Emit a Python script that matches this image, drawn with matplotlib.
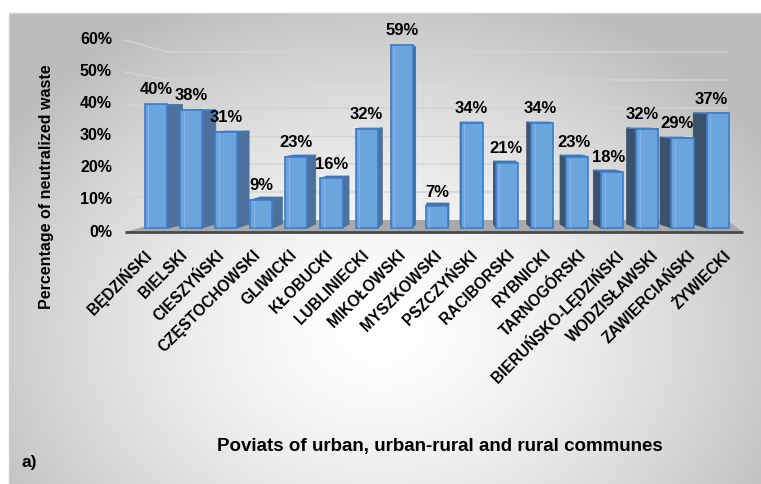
import numpy as np
import matplotlib
matplotlib.use("Agg")
import matplotlib.pyplot as plt
from matplotlib.patches import Polygon

plt.rcParams['font.family'] = ['Liberation Sans', 'DejaVu Sans']
plt.rcParams['font.weight'] = 'bold'

# --- data ---
poviats = ['BĘDZIŃSKI', 'BIELSKI', 'CIESZYŃSKI', 'CZĘSTOCHOWSKI', 'GLIWICKI',
           'KŁOBUCKI', 'LUBLINIECKI', 'MIKOŁOWSKI', 'MYSZKOWSKI', 'PSZCZYŃSKI',
           'RACIBORSKI', 'RYBNICKI', 'TARNOGÓRSKI', 'BIERUŃSKO-LĘDZIŃSKI',
           'WODZISŁAWSKI', 'ZAWIERCIAŃSKI', 'ŻYWIECKI']
share = [40, 38, 31, 9, 23, 16, 32, 59, 7, 34, 21, 34, 23, 18, 32, 29, 37]
yticks = [0, 10, 20, 30, 40, 50, 60]

W, H = 761, 484
fig = plt.figure(figsize=(W / 100, H / 100), dpi=100)

# --- background: radial grey gradient panel ---
bg = fig.add_axes([0, 0, 1, 1], zorder=-5)
yy, xx = np.mgrid[0:H, 0:W]
r = np.sqrt(((xx - 380) / 390.0) ** 2 + ((yy - 330) / 310.0) ** 2)
val = 1 - 0.21 * np.clip(r, 0, 1.15) ** 1.5
img = np.dstack([val, val, val])
img[:13, :, :] = 1.0
img[:, :9, :] = 1.0
bg.imshow(img, extent=(0, W, H, 0), aspect='auto', interpolation='bilinear')
bg.plot([9, 9, W], [H, 13, 13], color='#cfcfcf', lw=1)
bg.set_xlim(0, W)
bg.set_ylim(H, 0)
bg.axis('off')

# --- main axes, pixel mapping: x = 156 + 35.1*i, y = 228 - 3.1*v ---
px, py = 35.1, 3.1
ax = fig.add_axes([125 / W, (H - 236) / H, 620 / W, 206 / H])
ax.set_xlim((125 - 156) / px, (745 - 156) / px)
ax.set_ylim(-8 / py, 198 / py)
ax.axis('off')

def front(g):   # front edge of side wall
    return (-4 + 3.2 * g) / py

def back_wall(g):
    return (8 + 2.8 * g) / py

xf0, xf1 = (125 - 156) / px, (743 - 156) / px
xb0, xb1 = (167 - 156) / px, (727 - 156) / px

# gridlines (side wall + back wall)
for g in yticks[1:]:
    ax.plot([xf0, xb0, xb1], [front(g), back_wall(g), back_wall(g)],
            color='#d4d4d4', lw=1, zorder=1, clip_on=False)

# floor
ax.add_patch(Polygon([(xf0, front(0)), (xf1, front(0)), (xb1, back_wall(0)),
                      (xb0, back_wall(0))], closed=True,
                     facecolor='#a9a9a9', edgecolor='none', zorder=1))
ax.plot([xf0, xf1], [front(0) - 0.15, front(0) - 0.15], color='#4a4a4a',
        lw=2, zorder=1.5, solid_capstyle='butt')

# y tick labels
for g in yticks:
    ax.text((112 - 156) / px, front(g), f'{g}%', ha='right', va='center',
            fontsize=11.5, clip_on=False)

# bars
w = 0.315
def back_top(v):
    return (4 + 3.0 * v) / py

for i, v in enumerate(share):
    dx = 0.051 * (8.6 - i)
    vb, vb0 = back_top(v), back_top(0)
    if dx > 0:
        xe, side_col = i + w, '#4b719c'
    else:
        xe, side_col = i - w, '#3c526c'
    ax.add_patch(Polygon([(xe, 0), (xe, v), (xe + dx, vb), (xe + dx, vb0)],
                         closed=True, facecolor=side_col, edgecolor=side_col,
                         lw=0.6, zorder=2))
    ax.add_patch(Polygon([(i - w, v), (i + w, v), (i + w + dx, vb),
                          (i - w + dx, vb)], closed=True, facecolor='#4a6f96',
                         edgecolor='#3b7dc8', lw=0.6, zorder=2))
for i, v in enumerate(share):
    ax.bar(i, v, width=2 * w, color='#6ca4dd', edgecolor='#3b7dc8',
           linewidth=1.2, zorder=3)
    ax.plot([i - w + 0.1, i - w + 0.1], [0.3, v - 0.3], color='#85b5e6',
            lw=0.8, zorder=3.5)
    dx = 0.051 * (8.6 - i)
    ax.annotate(f'{v}%', (i + min(dx, 0) * 0.5, v), xytext=(0, 7),
                textcoords='offset points', ha='center', va='baseline',
                fontsize=12, zorder=4, annotation_clip=False)

# category labels (spread along the front edge of the floor)
for i, name in enumerate(poviats):
    ax.text(-0.2 + 1.033 * i, -17 / 206, name, transform=ax.get_xaxis_transform(),
            rotation=45, rotation_mode='anchor', ha='right', va='center',
            fontsize=11.2, clip_on=False)

fig.text(47 / W, 1 - 187 / H, 'Percentage of neutralized waste', rotation=90,
         ha='center', va='center', fontsize=11.5)
fig.text(440 / W, 1 - 446 / H, 'Poviats of urban, urban-rural and rural communes',
         ha='center', va='center', fontsize=13.5)
fig.text(22 / W, 1 - 462 / H, 'a)', ha='left', va='center', fontsize=12.5)

fig.savefig('out.png', dpi=100)
